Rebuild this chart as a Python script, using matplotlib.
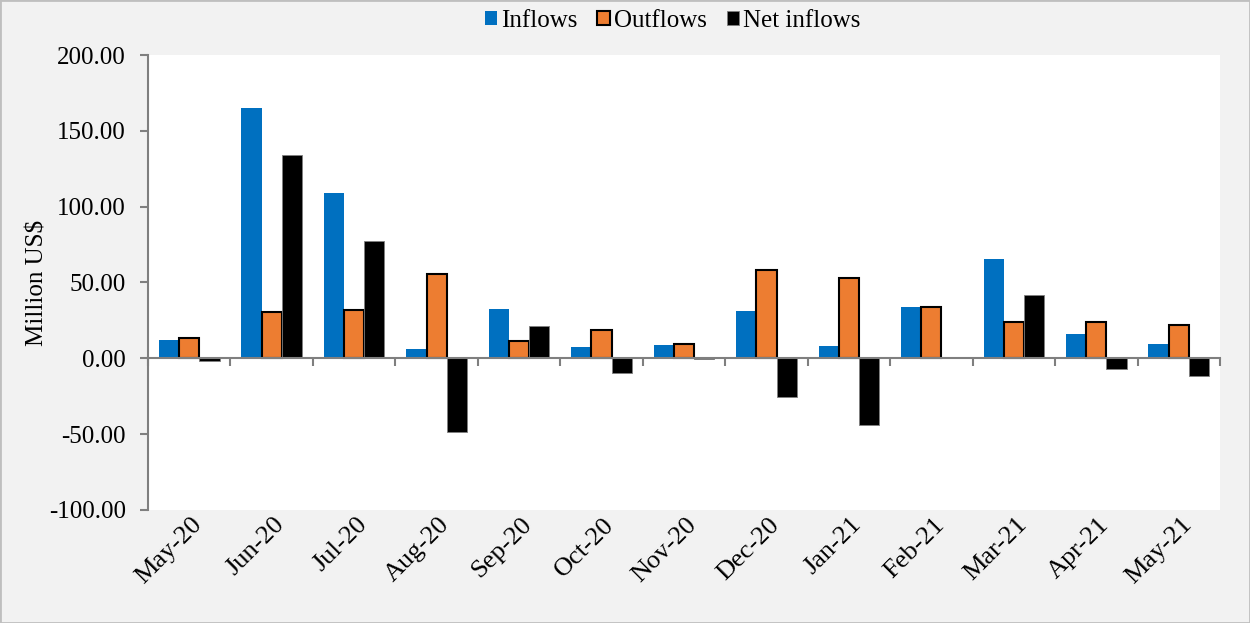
import matplotlib
matplotlib.use("Agg")
import matplotlib.pyplot as plt
import matplotlib.transforms as mtrans
import numpy as np
from matplotlib.patches import Rectangle

months = ["May-20", "Jun-20", "Jul-20", "Aug-20", "Sep-20", "Oct-20", "Nov-20",
          "Dec-20", "Jan-21", "Feb-21", "Mar-21", "Apr-21", "May-21"]
inflows = [11.9, 164.8, 108.8, 5.9, 32.3, 7.3, 8.6, 31.0, 7.9, 33.6, 65.3, 15.8, 9.2]
outflows = [13.5, 30.3, 31.6, 55.4, 11.2, 18.5, 9.2, 58.0, 52.7, 33.6, 23.7, 23.7, 21.8]
net = [-1.5, 134.0, 77.1, -48.8, 21.1, -10.0, -0.6, -25.7, -44.2, 0.0, 41.5, -7.3, -11.9]
yticks = [-100, -50, 0, 50, 100, 150, 200]

plt.rcParams['font.family'] = ['Liberation Serif', 'DejaVu Serif']
FS = 18

fig = plt.figure(figsize=(12.5, 6.23), dpi=100, facecolor="#F2F2F2")
fig.patches.append(Rectangle((0, 0), 1, 1, transform=fig.transFigure, fill=False,
                             edgecolor="#BFBFBF", linewidth=2))
ax = fig.add_axes([0.1184, 0.1814, 0.8576, 0.7303])
ax.set_facecolor("white")

x = np.arange(len(months))
w = 0.245
ax.bar(x - w, inflows, w, color="#0070C0", label="Inflows", zorder=3)
ax.bar(x, outflows, w, color="#ED7D31", edgecolor="black", linewidth=1.5, label="Outflows", zorder=3)
ax.bar(x + w, net, w, color="black", edgecolor="#7F7F7F", linewidth=0.6, label="Net inflows", zorder=3)

ax.set_xlim(-0.5, len(months) - 0.5)
ax.set_ylim(-100, 200)
ax.set_yticks(yticks)
ax.set_yticklabels([f"{v:.2f}" for v in yticks], fontsize=FS)
ax.set_ylabel("Million US$", fontsize=FS)
ax.yaxis.set_label_coords(-0.093, 0.5)

ax.set_xticks(np.arange(-0.5, len(months), 1.0))
ax.set_xticklabels([])
ax.tick_params(axis="x", which="major", length=6, color="#7F7F7F", width=1.5, direction="out")
ax.tick_params(axis="y", length=6, color="#7F7F7F", width=1.5, direction="out", pad=10)

for s in ["top", "right"]:
    ax.spines[s].set_visible(False)
ax.spines["left"].set_color("#7F7F7F")
ax.spines["left"].set_linewidth(1.5)
ax.spines["bottom"].set_position(("data", 0))
ax.spines["bottom"].set_color("#7F7F7F")
ax.spines["bottom"].set_linewidth(1.5)
ax.spines["bottom"].set_zorder(4)

trans = mtrans.blended_transform_factory(ax.transData, ax.transAxes)
for i, m in enumerate(months):
    ax.text(i + 0.02, -0.008, m, transform=trans, rotation=45, ha="right", va="top",
            rotation_mode="anchor", fontsize=19)

fig.legend(loc="center", bbox_to_anchor=(0.538, 0.966), ncol=3, frameon=False,
           fontsize=FS, handlelength=0.5, handleheight=0.5, handletextpad=0.15,
           columnspacing=0.8, borderpad=0)
fig.savefig("out.png", dpi=100, facecolor=fig.get_facecolor())
